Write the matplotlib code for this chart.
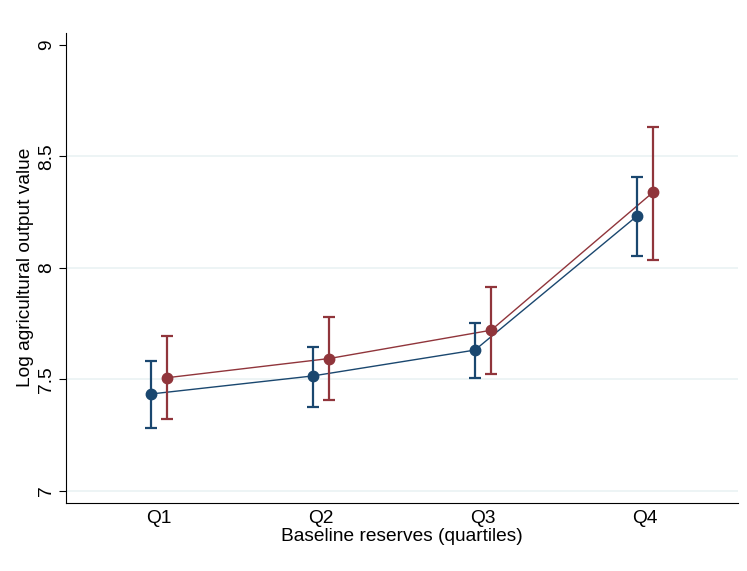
import matplotlib
matplotlib.use('Agg')
import matplotlib.pyplot as plt
import numpy as np

plt.rcParams['font.family'] = ['Liberation Sans', 'DejaVu Sans']

# data
quartiles = ['Q1', 'Q2', 'Q3', 'Q4']
blue_mean = [7.435, 7.516, 7.632, 8.233]
blue_low = [7.284, 7.377, 7.506, 8.054]
blue_high = [7.582, 7.646, 7.753, 8.408]
red_mean = [7.508, 7.594, 7.721, 8.340]
red_low = [7.322, 7.408, 7.525, 8.036]
red_high = [7.696, 7.781, 7.915, 8.632]

navy = '#1a476f'
maroon = '#90353b'

x = np.arange(1, len(quartiles) + 1)
off = 0.05

fig = plt.figure(figsize=(7.47, 5.71), dpi=100)
ax = fig.add_axes([0.0884, 0.1196, 0.8996, 0.8231])

for xs, m, lo, hi, col in [(x - off, blue_mean, blue_low, blue_high, navy),
                           (x + off, red_mean, red_low, red_high, maroon)]:
    m = np.array(m)
    yerr = [m - np.array(lo), np.array(hi) - m]
    ax.plot(xs, m, color=col, lw=1.0, zorder=3)
    ax.errorbar(xs, m, yerr=yerr, fmt='o', color=col, ms=7.5,
                elinewidth=1.6, capsize=4, capthick=1.6, zorder=4)

ax.set_xlim(0.426, 4.574)
ax.set_ylim(6.9475, 9.055)
ax.set_xticks(x)
ax.set_xticklabels(quartiles)
ax.set_yticks([7, 7.5, 8, 8.5, 9])
ax.set_yticklabels(['7', '7.5', '8', '8.5', '9'], rotation=90, va='center')
for v in [7, 7.5, 8, 8.5]:
    ax.axhline(v, color='#eaf2f3', lw=1.2, zorder=0)

ax.spines['top'].set_visible(False)
ax.spines['right'].set_visible(False)
ax.tick_params(axis='x', length=0, pad=5, labelsize=13.8)
ax.tick_params(axis='y', length=5, pad=3, labelsize=13.8)
ax.set_xlabel('Baseline reserves (quartiles)', fontsize=13.8, labelpad=1)
ax.set_ylabel('Log agricultural output value', fontsize=13.8, labelpad=3)

fig.savefig('out.png', dpi=100)
